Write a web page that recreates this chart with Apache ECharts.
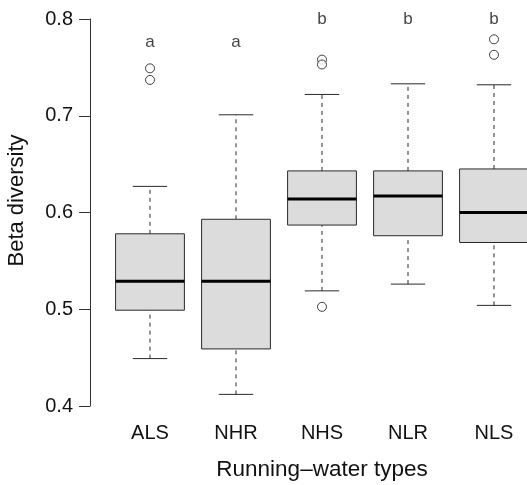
<!DOCTYPE html>
<html>
<head>
<meta charset="utf-8">
<script src="https://cdn.jsdelivr.net/npm/echarts@6/dist/echarts.min.js"></script>
<style>
html, body { margin: 0; padding: 0; background: #fff; }
#chart { width: 527px; height: 485px; }
</style>
</head>
<body>
<div id="chart"></div>
<script>
let font = "'Liberation Sans', Arial, Helvetica, sans-serif";

// running-water types
let categories = ['ALS', 'NHR', 'NHS', 'NLR', 'NLS'];
// box statistics per type
let whiskerLow = [0.449, 0.412, 0.519, 0.526, 0.504];
let q1 = [0.499, 0.459, 0.587, 0.576, 0.569];
let median = [0.529, 0.529, 0.614, 0.617, 0.600];
let q3 = [0.578, 0.593, 0.643, 0.643, 0.645];
let whiskerHigh = [0.627, 0.701, 0.722, 0.733, 0.732];
// outliers as [type index, value]
let outliers = [[0, 0.749], [0, 0.737], [2, 0.758], [2, 0.753], [2, 0.5025], [4, 0.779], [4, 0.763]];
// significance letters
let letters = ['a', 'a', 'b', 'b', 'b'];
let letterY = [0.776, 0.776, 0.8, 0.8, 0.8];

let boxData = [];
for (let i = 0; i < categories.length; i++)
{
    boxData.push([i, whiskerLow[i], q1[i], median[i], q3[i], whiskerHigh[i]]);
}

let letterData = [];
letters.forEach((l, i) => {
    letterData.push({ value: [i, letterY[i]], name: l });
});

function renderBox(params, api)
{
    let idx = api.value(0);
    let bw = api.size([1, 0])[0] * 0.8;
    let low = api.coord([idx, api.value(1)]);
    let p1 = api.coord([idx, api.value(2)]);
    let med = api.coord([idx, api.value(3)]);
    let p3 = api.coord([idx, api.value(4)]);
    let high = api.coord([idx, api.value(5)]);
    let x = low[0];
    let stroke = '#2a2a2a';

    return {
        type: 'group',
        children: [
            { type: 'line', shape: { x1: x, y1: low[1], x2: x, y2: p1[1] },
              style: { stroke: stroke, lineWidth: 1, lineDash: [4, 4] } },
            { type: 'line', shape: { x1: x, y1: p3[1], x2: x, y2: high[1] },
              style: { stroke: stroke, lineWidth: 1, lineDash: [4, 4] } },
            { type: 'line', shape: { x1: x - bw / 4, y1: low[1], x2: x + bw / 4, y2: low[1] },
              style: { stroke: stroke, lineWidth: 1 } },
            { type: 'line', shape: { x1: x - bw / 4, y1: high[1], x2: x + bw / 4, y2: high[1] },
              style: { stroke: stroke, lineWidth: 1 } },
            { type: 'rect', shape: { x: x - bw / 2, y: p3[1], width: bw, height: p1[1] - p3[1] },
              style: { fill: '#dcdcdc', stroke: stroke, lineWidth: 1 } },
            { type: 'line', shape: { x1: x - bw / 2, y1: med[1], x2: x + bw / 2, y2: med[1] },
              style: { stroke: '#000', lineWidth: 3 } }
        ]
    };
}

let myChart = echarts.init(document.getElementById('chart'));

let option = {
    animation: false,
    textStyle: { fontFamily: font },
    // plot region runs past the right edge, like the cropped original
    grid: { left: 107, top: 19, width: 430, bottom: 79, outerBoundsMode: 'none' },
    xAxis: {
        type: 'category',
        data: categories,
        boundaryGap: true,
        name: 'Running\u2013water types',
        nameLocation: 'middle',
        nameGap: 52,
        nameTextStyle: { fontSize: 22.5, color: '#111', fontFamily: font },
        axisLine: { show: false },
        axisTick: { show: false },
        axisLabel: { fontSize: 20, color: '#111', margin: 17, fontFamily: font },
        splitLine: { show: false }
    },
    yAxis: {
        type: 'value',
        min: 0.4,
        max: 0.8,
        interval: 0.1,
        offset: 17,
        name: 'Beta diversity',
        nameLocation: 'middle',
        nameGap: 62,
        nameTextStyle: { fontSize: 22, color: '#111', fontFamily: font, padding: [0, 0, 0, 24] },
        axisLine: { show: true, lineStyle: { color: '#333', width: 1 } },
        axisTick: { show: true, length: 11, lineStyle: { color: '#333' } },
        axisLabel: {
            fontSize: 20, color: '#111', margin: 17, fontFamily: font,
            formatter: v => v.toFixed(1)
        },
        splitLine: { show: false }
    },
    series: [
        {
            type: 'custom',
            renderItem: renderBox,
            data: boxData,
            encode: { x: 0, y: [1, 2, 3, 4, 5] }
        },
        {
            type: 'scatter',
            data: outliers,
            symbol: 'circle',
            symbolSize: 9,
            itemStyle: { color: '#fff', borderColor: '#111', borderWidth: 1 }
        },
        {
            type: 'scatter',
            data: letterData,
            symbolSize: 0,
            label: {
                show: true,
                position: 'inside',
                formatter: p => p.name,
                fontSize: 17,
                color: '#111',
                fontFamily: font
            }
        }
    ]
};

myChart.setOption(option);
</script>
</body>
</html>
